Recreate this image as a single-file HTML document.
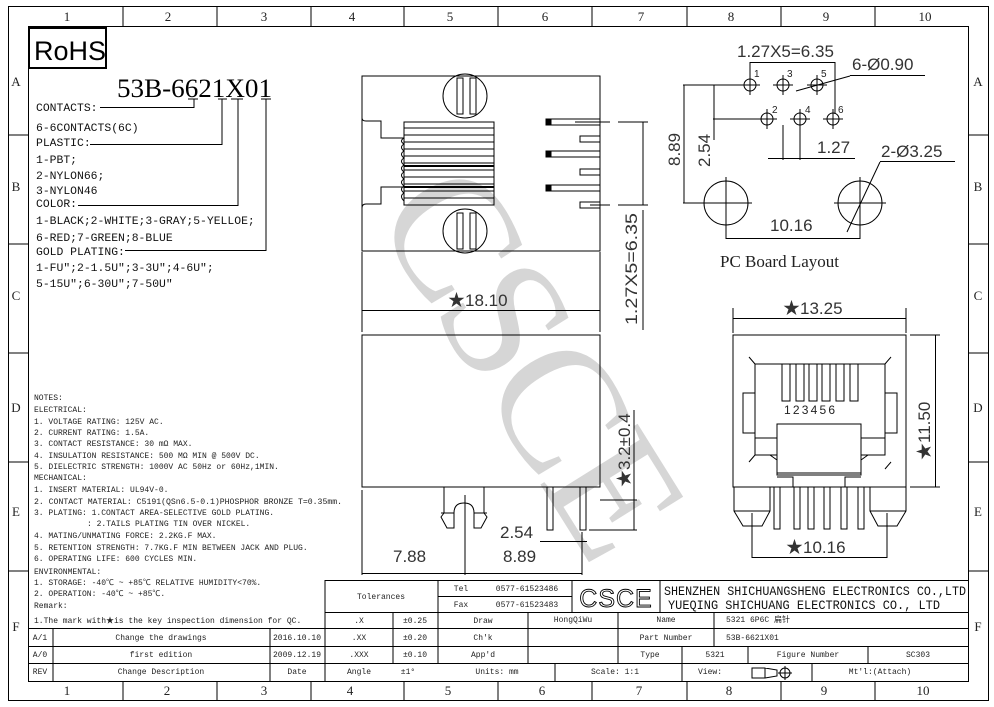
<!DOCTYPE html>
<html><head><meta charset="utf-8"><style>
html,body{margin:0;padding:0;background:#fff;}
svg{display:block;}
.s{font-family:"Liberation Serif","Noto Serif CJK SC",serif;}
.m{font-family:"Liberation Mono","Noto Sans CJK SC",monospace;}
.d{font-family:"Liberation Sans","Noto Sans CJK SC",sans-serif;}
</style></head><body>
<svg width="994" height="707" viewBox="0 0 994 707" xmlns="http://www.w3.org/2000/svg">
<!-- watermark -->
<text class="s" x="0" y="0" font-size="175" fill="#d6d6d6" transform="translate(372,215) rotate(58)" letter-spacing="-6">CSCE</text>

<g fill="none" stroke="#000" stroke-width="1">
<rect x="8.5" y="6.5" width="980" height="694"/>
<rect x="28.5" y="26.5" width="940" height="655"/>
<path d="M123 6v20M217 6v20M311 6v20M404 6v20M498 6v20M592 6v20M687 6v20M781 6v20M875 6v20"/>
<path d="M123 681v20M217 681v20M311 681v20M404 681v20M498 681v20M592 681v20M687 681v20M781 681v20M875 681v20"/>
<path d="M8 135h20M8 244h20M8 353h20M8 462h20M8 571h20"/>
<path d="M968 135h20M968 244h20M968 353h20M968 462h20M968 571h20"/>
<!-- title block -->
<path d="M325 580.5H968M438 596.5H572M325 612.5H968M28 628.5H968M28 646.5H968M28 663.5H968"/>
<path d="M325 580v101M438 580v83M572 580v32M660 580v32M393 612v51M53 628v53M270 628v53M528 612v51M618 612v51M714 612v34M682 646v35M748 646v17M868 646v17M555 663v18M812 663v18"/>
<rect x="29" y="28" width="77" height="40" stroke-width="2"/>
<path d="M188 99h10M218 99h9M231 99h12M261 99h10"/>
<path d="M100 107.5H194V99M90 144.5H222V99M78 205.5H238V99M125 250.5H266V99"/>

<!-- top view -->
<rect x="362" y="76" width="238" height="175"/>
<path d="M362 118q0 3 4 3h15v17h23M362 208q0-4 4-4h15v-17h23"/>
<rect x="404" y="122" width="90" height="83"/>
<path d="M404 128h90M404 135h90M404 142h90M404 149h90M404 156h90M404 163h90M404 170h90M404 177h90M404 184h90M404 191h90M404 198h90"/>
<path d="M404 166h90M404 187h90" stroke-width="2"/>
<path d="M404 138q-5 3 0 6q-5 3 0 7q-5 3 0 7q-5 3 0 7q-5 3 0 7q-5 3 0 7q-5 3 0 7q-5 3 0 7q-5 3 0 8"/>
<circle cx="465" cy="96" r="22"/>
<circle cx="465" cy="231" r="22"/>
<rect x="457" y="78" width="6" height="36" fill="#fff"/>
<rect x="470" y="78" width="6" height="36" fill="#fff"/>
<rect x="457" y="213" width="6" height="36" fill="#fff"/>
<rect x="470" y="213" width="6" height="36" fill="#fff"/>
<rect x="546" y="119" width="54" height="6"/><rect x="546" y="151" width="54" height="6"/><rect x="546" y="185" width="54" height="6"/>
<rect x="580" y="136" width="20" height="6"/><rect x="580" y="169" width="20" height="6"/><rect x="580" y="202" width="20" height="6"/>
<rect x="546" y="119" width="5" height="6" fill="#000"/><rect x="546" y="151" width="5" height="6" fill="#000"/><rect x="546" y="185" width="5" height="6" fill="#000"/>
<path d="M575 122h35M618 122h30M590 205h20M618 205h30M643 122v83"/>
<path d="M643 210v120"/>
<path d="M362 252v80M600 252v80M362 310.5h238"/>
<!-- front view -->
<rect x="362" y="335" width="238" height="152"/>
<path d="M444 487v26l-3 4 6 11h7v-15q0-10 10-10q10 0 10 10v15h7l6-11-3-4v-26"/>
<path d="M441 513h13M474 513h13"/>
<rect x="547" y="487" width="6" height="43"/><rect x="580" y="487" width="6" height="43"/>
<path d="M600 500h37M589 530h48M634 410v120M465 495v80M362 490v85M582 532v43M540 541.5h47M362 573.5h220"/>
<!-- right view -->
<rect x="733" y="335" width="173" height="152"/>
<path d="M733 308v25M906 308v25M733 318.5h173M910 335h30M910 487h30M935.5 335v152"/>
<path d="M755 364h130v91h-24M755 364v91h22M749 357l6 7M891 357l-6 7M749 462l6-7M891 462l-6 7"/>
<rect x="743" y="393" width="12" height="40"/><rect x="885" y="393" width="12" height="40"/>
<rect x="777" y="424" width="84" height="51"/>
<path d="M777 473h84M777 477h16v10M861 477h-16v10M755 438h22M861 438h24M770 455l7 5M868 455l-7 5"/>
<rect x="782" y="364" width="8" height="37"/><rect x="796" y="364" width="8" height="37"/><rect x="809" y="364" width="8" height="37"/><rect x="822" y="364" width="8" height="37"/><rect x="836" y="364" width="8" height="37"/><rect x="850" y="364" width="8" height="37"/>
<rect x="774" y="487" width="6" height="42"/><rect x="794" y="487" width="6" height="42"/><rect x="808" y="487" width="6" height="42"/><rect x="824" y="487" width="6" height="42"/><rect x="841" y="487" width="6" height="42"/><rect x="858" y="487" width="6" height="42"/>
<path d="M734 487v24l9 15h19l8-15v-24M734 511h36M906 487v24l-9 15h-19l-8-15v-24M870 511h36"/>
<path d="M752 513v45M887 513v45M752 557.5h135"/>
<!-- PC board -->
<circle cx="750" cy="85" r="6"/><circle cx="783" cy="85" r="6"/><circle cx="817" cy="85" r="6"/>
<circle cx="767" cy="119" r="6"/><circle cx="800" cy="119" r="6"/><circle cx="833" cy="119" r="6"/>
<path d="M740 85h20M750 75v20M773 85h20M783 75v20M807 85h20M817 75v20M757 119h20M767 109v20M790 119h20M800 109v20M823 119h20M833 109v20"/>
<circle cx="726" cy="203" r="22"/><circle cx="860" cy="203" r="22"/>
<path d="M700 203h52M726 177v60M834 203h52M860 177v60"/>
<path d="M750 62v16M835 62v52M750 62.5h85M683 85h60M683 203h43M684 85v118M713 119h50M713 85h30M714 85v55M783 125v35M800 125v35M768 158.5h87"/>
<path d="M726 225v14M860 225v14M726 238.5h134"/>
<path d="M850 75.5h75M850 76l-54 15M880 161.5h75M880 162l-33 70"/>
</g>

<g class="s" font-size="13" text-anchor="middle" fill="#222">
<text x="67" y="21">1</text><text x="168" y="21">2</text><text x="264" y="21">3</text><text x="352" y="21">4</text><text x="450" y="21">5</text><text x="545" y="21">6</text><text x="641" y="21">7</text><text x="731" y="21">8</text><text x="826" y="21">9</text><text x="925" y="21">10</text>
<text x="67" y="695">1</text><text x="167" y="695">2</text><text x="264" y="695">3</text><text x="350" y="695">4</text><text x="448" y="695">5</text><text x="542" y="695">6</text><text x="639" y="695">7</text><text x="729" y="695">8</text><text x="824" y="695">9</text><text x="923" y="695">10</text>
<text x="16" y="86">A</text><text x="16" y="191">B</text><text x="16" y="300">C</text><text x="16" y="412">D</text><text x="16" y="516">E</text><text x="16" y="631">F</text>
<text x="978" y="86">A</text><text x="978" y="191">B</text><text x="978" y="300">C</text><text x="978" y="412">D</text><text x="978" y="516">E</text><text x="978" y="631">F</text>
</g>

<text class="d" x="34" y="60" font-size="27">RoHS</text>
<text class="s" x="117" y="97" font-size="26" textLength="155" lengthAdjust="spacingAndGlyphs">53B-6621X01</text>
<g class="m" font-size="11.4" fill="#111">
<text x="36" y="111">CONTACTS:</text>
<text x="36" y="131">6-6CONTACTS(6C)</text>
<text x="36" y="146">PLASTIC:</text>
<text x="36" y="163">1-PBT;</text>
<text x="36" y="179">2-NYLON66;</text>
<text x="36" y="194">3-NYLON46</text>
<text x="36" y="207">COLOR:</text>
<text x="36" y="224">1-BLACK;2-WHITE;3-GRAY;5-YELLOE;</text>
<text x="36" y="241">6-RED;7-GREEN;8-BLUE</text>
<text x="36" y="255">GOLD PLATING:</text>
<text x="36" y="271">1-FU";2-1.5U";3-3U";4-6U";</text>
<text x="36" y="287">5-15U";6-30U";7-50U"</text>
</g>
<g class="m" font-size="8" fill="#222">
<text x="34" y="400">NOTES:</text>
<text x="34" y="412">ELECTRICAL:</text>
<text x="34" y="424">1. VOLTAGE RATING: 125V AC.</text>
<text x="34" y="435">2. CURRENT RATING: 1.5A.</text>
<text x="34" y="446">3. CONTACT RESISTANCE: 30 mΩ MAX.</text>
<text x="34" y="458">4. INSULATION RESISTANCE: 500 MΩ MIN @ 500V DC.</text>
<text x="34" y="469">5. DIELECTRIC STRENGTH: 1000V AC 50Hz or 60Hz,1MIN.</text>
<text x="34" y="480">MECHANICAL:</text>
<text x="34" y="492">1. INSERT MATERIAL: UL94V-0.</text>
<text x="34" y="504" textLength="308" lengthAdjust="spacingAndGlyphs">2. CONTACT MATERIAL: C5191(QSn6.5-0.1)PHOSPHOR BRONZE T=0.35mm.</text>
<text x="34" y="515">3. PLATING: 1.CONTACT AREA-SELECTIVE GOLD PLATING.</text>
<text x="87" y="526">: 2.TAILS PLATING TIN OVER NICKEL.</text>
<text x="34" y="538">4. MATING/UNMATING FORCE: 2.2KG.F MAX.</text>
<text x="34" y="550">5. RETENTION STRENGTH: 7.7KG.F MIN BETWEEN JACK AND PLUG.</text>
<text x="34" y="561">6. OPERATING LIFE: 600 CYCLES MIN.</text>
<text x="34" y="574">ENVIRONMENTAL:</text>
<text x="34" y="585">1. STORAGE: -40℃ ~ +85℃ RELATIVE HUMIDITY&lt;70%.</text>
<text x="34" y="596">2. OPERATION: -40℃ ~ +85℃.</text>
<text x="34" y="608">Remark:</text>
<text x="34" y="623">1.The mark with★is the key inspection dimension for QC.</text>
</g>
<g class="m" font-size="8" fill="#222" text-anchor="middle">
<text x="381" y="599">Tolerances</text>
<text x="461" y="591">Tel</text><text x="461" y="607">Fax</text>
<text x="527" y="591">0577-61523486</text><text x="527" y="607">0577-61523483</text>
<text x="359" y="623">.X</text><text x="415" y="623">±0.25</text><text x="483" y="623">Draw</text><text x="573" y="622">HongQiWu</text><text x="666" y="622">Name</text>
<text x="359" y="640">.XX</text><text x="415" y="640">±0.20</text><text x="483" y="640">Ch'k</text><text x="666" y="640">Part Number</text>
<text x="359" y="657">.XXX</text><text x="415" y="657">±0.10</text><text x="483" y="657">App'd</text><text x="650" y="657">Type</text><text x="715" y="657">5321</text><text x="808" y="657">Figure Number</text><text x="918" y="657">SC303</text>
<text x="359" y="674">Angle</text><text x="408" y="674">±1°</text><text x="497" y="674">Units: mm</text><text x="615" y="674">Scale: 1:1</text><text x="710" y="674">View:</text><text x="880" y="674">Mt'l:(Attach)</text>
<text x="40" y="640">A/1</text><text x="161" y="640">Change the drawings</text><text x="297" y="640">2016.10.10</text>
<text x="40" y="657">A/0</text><text x="161" y="657">first edition</text><text x="297" y="657">2009.12.19</text>
<text x="40" y="674">REV</text><text x="161" y="674">Change Description</text><text x="297" y="674">Date</text>
</g>
<g class="m" font-size="8" fill="#222"><text x="726" y="622">5321 6P6C 扁针</text><text x="726" y="640">53B-6621X01</text></g>
<text class="d" x="616" y="607" font-size="25" text-anchor="middle" fill="#fff" stroke="#000" stroke-width="0.9" letter-spacing="1">CSCE</text>
<g class="m" font-size="12.5" fill="#111">
<text x="664" y="595" textLength="302" lengthAdjust="spacingAndGlyphs">SHENZHEN SHICHUANGSHENG ELECTRONICS CO.,LTD</text>
<text x="668" y="609" textLength="272" lengthAdjust="spacingAndGlyphs">YUEQING SHICHUANG ELECTRONICS CO., LTD</text>
</g>
<g fill="none" stroke="#000" stroke-width="1"><path d="M752 668h13v10h-13zM765 668l12 2v6l-12 2"/><circle cx="785" cy="673" r="5"/><path d="M778 673h14M785 666v14"/></g>

<g class="d" fill="#333" font-size="17">
<text x="448" y="306">★18.10</text>
<text x="0" y="0" transform="translate(637,325) rotate(-90)" textLength="112" lengthAdjust="spacingAndGlyphs">1.27X5=6.35</text>
<text x="0" y="0" transform="translate(630,487) rotate(-90)">★3.2±0.4</text>
<text x="500" y="538">2.54</text>
<text x="393" y="562">7.88</text>
<text x="503" y="562">8.89</text>
<text x="783" y="314">★13.25</text>
<text x="0" y="0" transform="translate(930,460) rotate(-90)">★11.50</text>
<text x="786" y="553">★10.16</text>
<text x="737" y="57">1.27X5=6.35</text>
<text x="852" y="70">6-Ø0.90</text>
<text x="0" y="0" transform="translate(680,166) rotate(-90)">8.89</text>
<text x="0" y="0" transform="translate(710,167) rotate(-90)">2.54</text>
<text x="817" y="153">1.27</text>
<text x="881" y="157">2-Ø3.25</text>
<text x="770" y="231">10.16</text>
</g>
<g class="d" font-size="12" fill="#222"><text x="784" y="414" letter-spacing="2.2">123456</text>
<text x="754" y="77" font-size="10">1</text><text x="787" y="77" font-size="10">3</text><text x="821" y="77" font-size="10">5</text>
<text x="772" y="113" font-size="10">2</text><text x="805" y="113" font-size="10">4</text><text x="838" y="113" font-size="10">6</text></g>
<text class="s" x="720" y="267" font-size="17" fill="#222">PC Board Layout</text>
</svg>
</body></html>
